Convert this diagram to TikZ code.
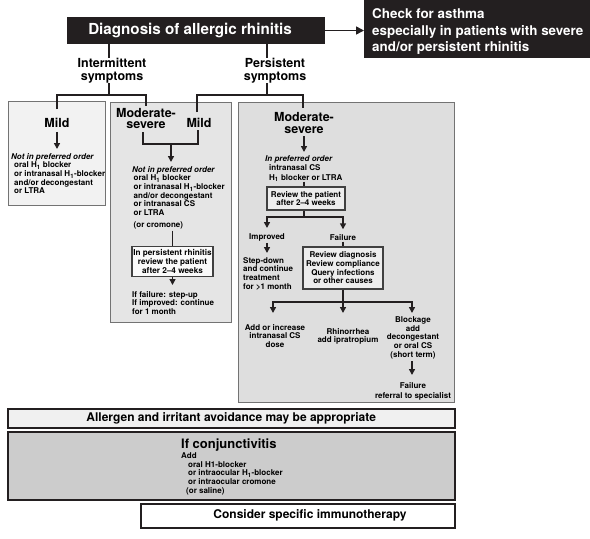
\documentclass[tikz,border=0pt]{standalone}
\usepackage{fontspec}
\setmainfont{TeX Gyre Heros}
\usetikzlibrary{arrows.meta}
\definecolor{ink}{RGB}{35,31,32}
\tikzset{
  head/.style={font=\fontsize{12.5}{12.5}\selectfont\bfseries, inner sep=0pt, align=center},
  sm/.style={font=\fontsize{8}{8.7}\selectfont\bfseries, inner sep=0pt},
  conn/.style={line width=1.6pt, draw=ink},
  arr/.style={conn, -{Triangle[length=6pt,width=6pt]}},
  bigarr/.style={conn, -{Triangle[length=8pt,width=8pt]}},
  panel/.style={draw=black!55, line width=0.8pt, anchor=north west, inner sep=0pt},
  frame/.style={draw=ink, line width=1.5pt, anchor=north west, inner sep=0pt},
  ibox/.style={sm, draw=black!75, line width=1.1pt, align=center},
  blk/.style={fill=ink, text=white, inner sep=0pt}
}
\begin{document}
\begin{tikzpicture}[x=1pt,y=-1pt]
\useasboundingbox (0,0) rectangle (590,539);
% panels
\node[panel, fill=black!5, minimum width=97pt, minimum height=104pt] (pA) at (8,101) {};
\node[panel, fill=black!10, minimum width=121pt, minimum height=220pt] (pB) at (110,102) {};
\node[panel, fill=black!13, minimum width=216pt, minimum height=300pt] (pC) at (238,102) {};
\node[frame, fill=black!6, minimum width=447pt, minimum height=19pt, font=\fontsize{12}{12}\selectfont\bfseries] (avoid) at (7,408) {Allergen and irritant avoidance may be appropriate};
\node[frame, fill=black!20, minimum width=447pt, minimum height=68pt] (conj) at (7,431) {};
\node[frame, fill=white, minimum width=314pt, minimum height=24pt] (immuno) at (140,503) {};
% top
\node[blk, minimum width=258pt, minimum height=27pt, font=\fontsize{15.2}{15}\selectfont\bfseries] (diag) at (196,30.5) {Diagnosis of allergic rhinitis\hspace*{12pt}};
\node[blk, anchor=north west, minimum width=226pt, minimum height=58pt] (asthma) at (364,0) {};
\node[anchor=north west, inner sep=0pt, align=left, text=white, font=\fontsize{13.4}{16.5}\selectfont\bfseries] (asthmaT) at (372,8.6) {Check for asthma\\especially in patients with severe\\and/or persistent rhinitis};
\draw[bigarr] (diag.east) -- (diag.east -| asthma.west);
\node[head, anchor=north, font=\fontsize{12.5}{13}\selectfont\bfseries] (inter) at (112,58) {Intermittent\\symptoms};
\node[head, anchor=north, font=\fontsize{12.5}{13}\selectfont\bfseries] (persist) at (275,58) {Persistent\\symptoms};
\coordinate (jI) at (109,95);
\coordinate (jP) at (267,95);
\draw[conn] (diag.south -| jI) -- (inter.north -| jI);
\draw[conn] (diag.south -| jP) -- (persist.north -| jP);
\draw[conn] (inter.south -| jI) -- (jI);
\draw[conn] (persist.south -| jP) -- (jP);
% level heads
\node[head] (mildA) at (57,123) {Mild};
\node[head, font=\fontsize{12.5}{11.5}\selectfont\bfseries] (modB) at (146,118.5) {Moderate-\\severe};
\node[head] (mildB) at (199,123) {Mild};
\node[head, font=\fontsize{12.5}{12}\selectfont\bfseries] (modC) at (304,122.5) {Moderate-\\severe};
\coordinate (eA) at (57,109);
\coordinate (eB) at (146,106);
\coordinate (eC) at (197,112);
\coordinate (eD) at (303,108);
\draw[conn] (eA) |- (jI) -| (eB);
\draw[conn] (eC) |- (jP) -| (eD);
% left panel
\draw[arr] ([yshift=-4pt]mildA.south) -- (57,149);
\node[sm, anchor=north west, align=left] (textA) at (14,153) {\hspace*{-3pt}\textit{Not in preferred order}\\oral H\textsubscript{1} blocker\\or intranasal H\textsubscript{1}-blocker\\and/or decongestant\\or LTRA};
% middle panel
\coordinate (mB1) at (143,144);
\coordinate (mB2) at (198,144);
\coordinate (jB) at (171,144);
\draw[conn] ([yshift=-3pt]modB.south -| mB1) -- (mB1) -- (mB2) -- ([yshift=-2pt]mildB.south -| mB2);
\node[sm, anchor=north west, align=left] (textB) at (133.5,166) {\hspace*{-1.5pt}\textit{Not in preferred order}\\oral H\textsubscript{1} blocker\\or intranasal H\textsubscript{1}-blocker\\and/or decongestant\\or intranasal CS\\or LTRA\\[3.4pt](or cromone)};
\draw[arr] (jB) -- ([yshift=4pt]textB.north -| jB);
\node[ibox, fill=black!2, minimum width=81pt, minimum height=30pt, font=\fontsize{8.2}{9.3}\selectfont\bfseries] (boxB) at (172.5,261.5) {In persistent rhinitis\\review the patient\\after 2--4 weeks};
\draw[conn] ([yshift=-1pt]textB.south -| boxB.north) -- (boxB.north);
\node[sm, anchor=north west, align=left] (textB2) at (132,291) {If failure: step-up\\If improved: continue\\for 1 month};
\draw[arr] (boxB.south) -- ([yshift=6pt]textB2.north -| boxB.south);
% right panel
\node[sm, anchor=north west, align=left, font=\fontsize{8}{9.5}\selectfont\bfseries] (textC) at (269,155) {\hspace*{-4pt}\textit{In preferred order}\\intranasal CS\\H\textsubscript{1} blocker or LTRA};
\draw[arr] ([yshift=-3pt]modC.south) -- ([yshift=3pt]modC.south |- textC.north);
\node[ibox, fill=black!7, minimum width=78pt, minimum height=23pt] (revC) at (306,198.5) {Review the patient\\after 2--4 weeks};
\draw[conn] (modC.south |- textC.south) -- (modC.south |- revC.north);
\coordinate (sC) at (304,217);
\draw[conn] (revC.south -| sC) -- (sC);
\node[sm] (improved) at (267,237) {Improved};
\node[sm] (failure) at (343,237.5) {Failure};
\draw[arr] (sC) -| ([yshift=5pt]improved.north);
\draw[arr] (sC) -| ([yshift=5pt]failure.north);
\node[sm, anchor=north west, align=left] (stepdown) at (243,257) {Step-down\\and continue\\treatment\\for >1 month};
\draw[arr] ([yshift=-2pt]improved.south) -- ([yshift=4pt]improved.south |- stepdown.north);
\node[ibox, fill=black!7, minimum width=80pt, minimum height=42pt] (revD) at (343,268) {Review diagnosis\\Review compliance\\Query infections\\or other causes};
\draw[conn] ([yshift=-1pt]failure.south) -- (failure.south |- revD.north);
\coordinate (sD) at (343,302);
\coordinate (tA) at (273,313);
\coordinate (tB) at (343,313);
\coordinate (tC) at (412,313);
\draw[conn] (revD.south) -- (sD);
\draw[arr] (sD) -| (tA);
\draw[arr] (sD) -- (tB);
\draw[arr] (sD) -| (tC);
\node[sm, anchor=north, align=center] (addinc) at (275,324) {Add or increase\\intranasal CS\\dose};
\node[sm, anchor=north, align=center] (rhino) at (348,328) {Rhinorrhea\\add ipratropium};
\node[sm, anchor=north, align=center] (block) at (413,316.5) {Blockage\\add\\decongestant\\or oral CS\\(short term)};
\node[sm, anchor=north, align=center, font=\fontsize{8}{10}\selectfont\bfseries] (fail2) at (413,382) {Failure\\referral to specialist};
\draw[arr] ([yshift=-2pt]block.south -| tC) -- ([yshift=7pt]fail2.north -| tC);
% conjunctivitis
\node[inner sep=0pt, anchor=base west, font=\fontsize{13}{13}\selectfont\bfseries] (conjT) at (181,448) {If conjunctivitis};
\node[sm, anchor=north west, align=left] (conjL) at (181,452.5) {Add\\\hspace*{7pt}oral H1-blocker\\\hspace*{7pt}or intraocular H\textsubscript{1}-blocker\\\hspace*{7pt}or intraocular cromone\\\hspace*{5pt}(or saline)};
\node[inner sep=0pt, font=\fontsize{12}{12}\selectfont\bfseries] (immunoT) at (310,515.5) {Consider specific immunotherapy};
\end{tikzpicture}
\end{document}
